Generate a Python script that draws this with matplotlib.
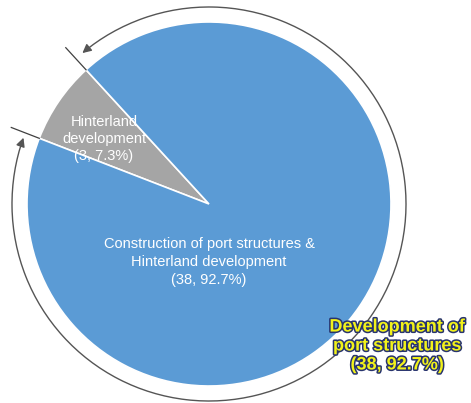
import numpy as np
import matplotlib.pyplot as plt
import matplotlib.patheffects as pe
from matplotlib.path import Path
from matplotlib.patches import FancyArrowPatch
from matplotlib.transforms import Affine2D

# data
labels = ["Hinterland\ndevelopment", "Construction of port structures &\nHinterland development"]
counts = [3, 38]
shares = [7.3, 92.7]
colors = ["#A5A5A5", "#5B9BD5"]
note = "Development of\nport structures\n(38, 92.7%)"

W, H = 471, 403
fig = plt.figure(figsize=(W / 100, H / 100), dpi=100)
ax = fig.add_axes([0, 0, 1, 1])

cx, cy, r = 209, 199, 182
start = 132.5

ax.pie(counts, colors=colors, startangle=start, counterclock=True,
       center=(cx, cy), radius=r, frame=True,
       wedgeprops=dict(edgecolor="white", linewidth=1.2))
ax.set_xlim(0, W)
ax.set_ylim(0, H)
ax.set_aspect("equal")
ax.axis("off")

# boundaries of the small slice
a1 = start
a2 = start + 360 * counts[0] / sum(counts)
for a in (a1, a2):
    t = np.deg2rad(a)
    ax.plot([cx + r * np.cos(t), cx + 212 * np.cos(t)],
            [cy + r * np.sin(t), cy + 212 * np.sin(t)],
            color="#404040", lw=0.9)

# arc with arrows around the big slice
ra = 197
arc = Path.arc(a2 + 1.5, a1 + 360 - 2.5)
arc = Affine2D().scale(ra).translate(cx, cy).transform_path(arc)
ax.add_patch(FancyArrowPatch(path=arc, arrowstyle="<|-|>", mutation_scale=13,
                             color="#555555", lw=1.0, shrinkA=0, shrinkB=0))

font = "Liberation Sans"
ax.text(104, 264, f"{labels[0]}\n({counts[0]}, {shares[0]}%)", ha="center", va="center",
        color="white", fontsize=10.5, family=font, linespacing=1.3)
ax.text(209, 141, f"{labels[1]}\n({counts[1]}, {shares[1]}%)", ha="center", va="center",
        color="white", fontsize=10.5, family=font, linespacing=1.4)

ax.text(397, 57, note, ha="center", va="center", color="#F2F21A",
        fontsize=13, fontweight="bold", family=font, linespacing=1.15,
        path_effects=[pe.withStroke(linewidth=2.2, foreground="#28346E")])

fig.savefig("out.png", dpi=100)
